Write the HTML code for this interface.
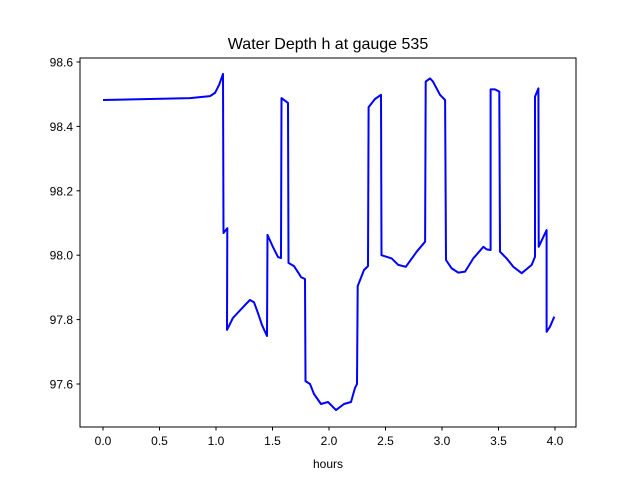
<!DOCTYPE html>
<html><head><meta charset="utf-8"><style>
body{margin:0;background:#fff}
svg text{font-family:"Liberation Sans","DejaVu Sans",sans-serif;fill:#000}
</style></head><body>
<svg id="chart" width="640" height="480" xmlns="http://www.w3.org/2000/svg">
<rect width="640" height="480" fill="#fff"/>
<text x="328" y="49" font-size="16" text-anchor="middle">Water Depth h at gauge 535</text>
<g id="plot"></g>
<rect x="80" y="58" width="496" height="369" fill="none" stroke="#000" stroke-width="1"/>
<text x="328" y="468" font-size="12" text-anchor="middle">hours</text>
</svg>
<script>
const hours=[0,0.77,0.947,0.991,1.027,1.062,1.066,1.10,1.097,1.15,1.257,1.30,1.336,1.372,1.407,1.451,1.456,1.504,1.549,1.575,1.58,1.637,1.642,1.69,1.735,1.752,1.788,1.792,1.832,1.867,1.929,1.991,2.062,2.133,2.195,2.23,2.248,2.254,2.31,2.345,2.35,2.407,2.46,2.465,2.555,2.613,2.68,2.776,2.85,2.856,2.894,2.92,2.982,3.027,3.035,3.086,3.144,3.204,3.277,3.366,3.395,3.43,3.43,3.469,3.507,3.513,3.572,3.631,3.705,3.794,3.823,3.823,3.853,3.856,3.926,3.926,3.956,3.994];
const depth=[98.482,98.488,98.494,98.504,98.529,98.563,98.069,98.084,97.768,97.805,97.845,97.861,97.854,97.82,97.783,97.749,98.063,98.025,97.994,97.991,98.488,98.473,97.976,97.966,97.942,97.932,97.926,97.609,97.6,97.569,97.538,97.544,97.519,97.538,97.544,97.588,97.6,97.904,97.954,97.966,98.46,98.485,98.498,98.0,97.99,97.97,97.964,98.011,98.042,98.539,98.549,98.539,98.498,98.482,97.985,97.959,97.946,97.949,97.99,98.026,98.018,98.016,98.515,98.515,98.508,98.011,97.99,97.964,97.944,97.97,97.995,98.492,98.518,98.026,98.078,97.762,97.778,97.809];
const xTicks=[0,0.5,1,1.5,2,2.5,3,3.5,4];
const xTickLabels=["0.0","0.5","1.0","1.5","2.0","2.5","3.0","3.5","4.0"];
const yTicks=[97.6,97.8,98.0,98.2,98.4,98.6];
const yTickLabels=["97.6","97.8","98.0","98.2","98.4","98.6"];
const X=h=>103+h*113;
const Y=d=>62+(98.6-d)*322;
const NS="http://www.w3.org/2000/svg";
const g=document.getElementById('plot');
function mk(t,a){const e=document.createElementNS(NS,t);for(const k in a)e.setAttribute(k,a[k]);g.appendChild(e);return e;}
xTicks.forEach((v,i)=>{
  const l=mk('line',{x1:X(v),x2:X(v),y1:427,y2:430.5,stroke:'#000'});
  
  
  const t=mk('text',{x:X(v),y:445,'font-size':12,'text-anchor':'middle'});
  t.textContent=xTickLabels[i];
  
  
});
yTicks.forEach((v,i)=>{
  const l=mk('line',{x1:76.5,x2:80,y1:Y(v),y2:Y(v),stroke:'#000'});
  
  
  const t=mk('text',{x:73,y:Y(v)+4.5,'font-size':12,'text-anchor':'end'});
  t.textContent=yTickLabels[i];
  
  
});
const p=mk('polyline',{points:hours.map((h,i)=>X(h).toFixed(1)+','+Y(depth[i]).toFixed(1)).join(' '),fill:'none',stroke:'#0000ff','stroke-width':2,'stroke-linejoin':'round'});


</script>
</body></html>
